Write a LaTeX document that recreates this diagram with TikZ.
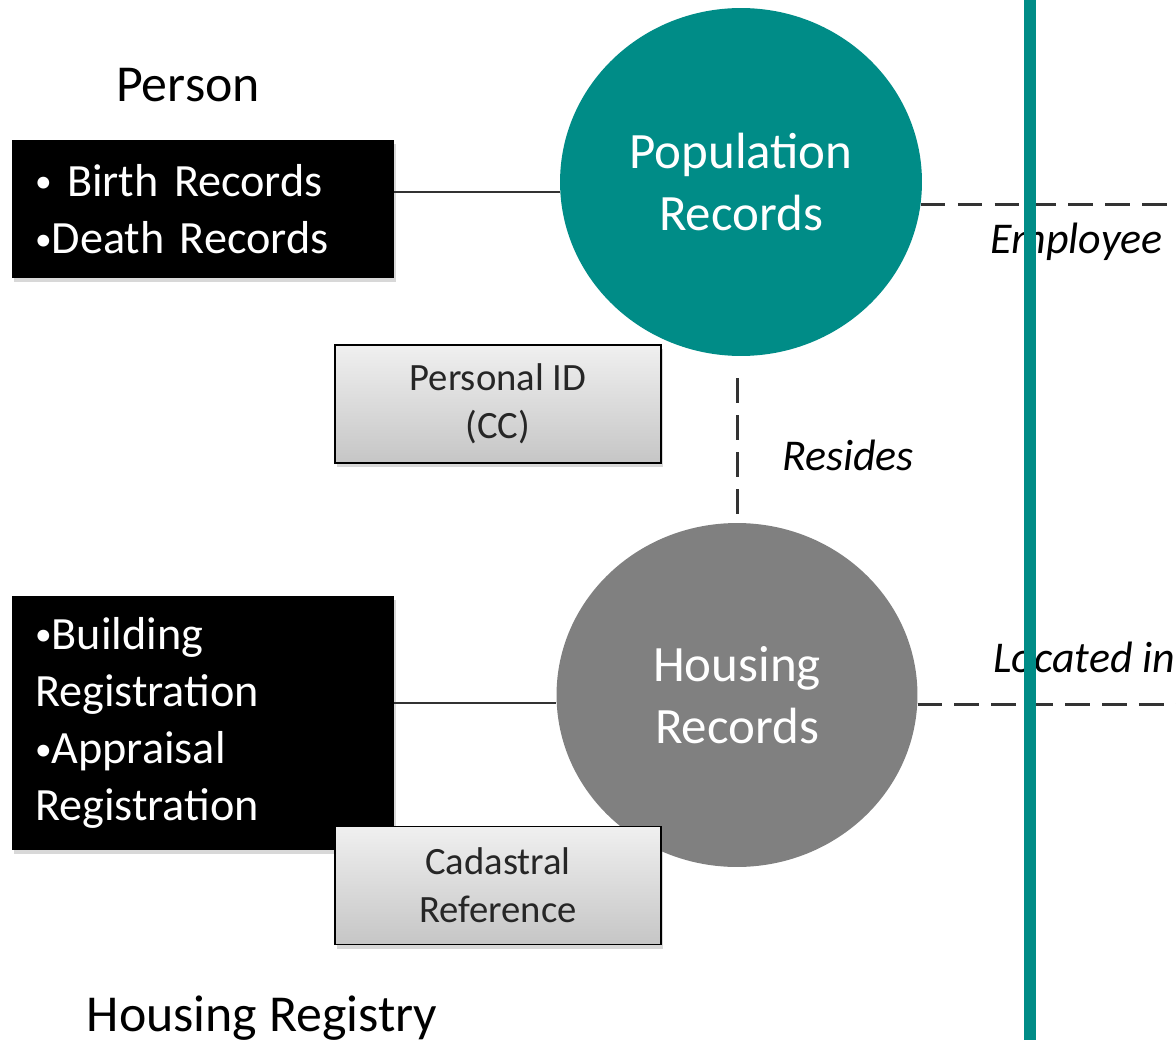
\documentclass[tikz,border=0pt]{standalone}
\usepackage{fontspec}
\setmainfont{Carlito}
\usepackage{tikz}
\usepackage{xcolor}
\usetikzlibrary{shapes.geometric, shadows, positioning}

\definecolor{regteal}{HTML}{008C87}
\definecolor{reggrey}{HTML}{808080}
\definecolor{linegrey}{HTML}{333333}

\newcommand{\listdot}{{\fontsize{19}{19}\selectfont\raisebox{0.22ex}{\textbullet}}}
\newcommand{\listfont}{\fontsize{26.3}{32.6}\selectfont\spaceskip=0.17em\relax}

\begin{document}
\begin{tikzpicture}[x=0.02cm, y=-0.02cm,
    listbox/.style={fill=black, text=white, minimum width=7.64cm, text width=6.72cm,
        align=left, inner sep=0pt, font=\listfont,
        drop shadow={shadow xshift=1pt, shadow yshift=-2.5pt, opacity=0.3}},
    keybox/.style={draw=black, line width=1.1pt, top color=gray!12, bottom color=gray!45,
        minimum width=6.52cm, minimum height=2.36cm, align=center, text=black!85,
        font=\fontsize{22}{27.3}\selectfont,
        drop shadow={shadow xshift=1pt, shadow yshift=-2.5pt, opacity=0.3}},
    registry/.style={ellipse, text=white, align=center, inner sep=0pt,
        font=\fontsize{29}{35.3}\selectfont},
    heading/.style={font=\fontsize{29.5}{34}\selectfont},
    relation/.style={inner sep=0pt, font=\fontsize{25}{30}\itshape},
    link/.style={draw=linegrey, line width=1.2pt},
    dashlink/.style={draw=linegrey, line width=1.7pt, dash pattern=on 14pt off 7pt}]

    \clip (0,0) rectangle (1176,1040);
    \fill[white] (0,0) rectangle (1176,1040);

    \node[heading] (person) at (188,85) {Person};
    \node[heading] (housreg) at (262,1018) {Housing Registry};

    \node[listbox, minimum height=2.76cm] (pbox) at (203,209)
        {\listdot\ Birth Records\\\listdot Death Records};
    \node[listbox, minimum height=5.08cm] (hbox) at (203,723)
        {\listdot Building\\Registration\\\listdot Appraisal\\Registration};

    \node[registry, fill=regteal, minimum width=7.24cm, minimum height=6.96cm] (pop) at (741,182)
        {Population\\Records};
    \node[registry, fill=reggrey, minimum width=7.22cm, minimum height=6.88cm] (hou) at (737,695)
        {Housing\\Records};

    \node[keybox] (pid) at (498,404) {Personal ID\\(CC)};
    \node[keybox] (cad) at (498,885.5) {Cadastral\\Reference};

    \node[relation] (resides) at (848,455) {Resides};
    \node[relation, anchor=west] (employee) at (990,242) {Employee};
    \node[relation, anchor=west] (located) at (993,657) {Located in};

    \coordinate (edgeR) at (1190,0);
    \coordinate (barT) at (1030,-10);
    \coordinate (barB) at (1030,1050);

    \draw[link] (pbox.5) -- (pbox.5 -| pop.west);
    \draw[link] (hbox.6) -- (hbox.6 -| hou.west);
    \draw[dashlink, shorten <=0.44cm, shorten >=0.16cm] (pop.south -| hou.north) -- (hou.north);
    \draw[dashlink] (pop.-7) -- (pop.-7 -| edgeR);
    \draw[dashlink] (hou.-3) -- (hou.-3 -| edgeR);

    % divider
    \draw[regteal, line width=6.8pt] (barT) -- (barB);
\end{tikzpicture}
\end{document}
